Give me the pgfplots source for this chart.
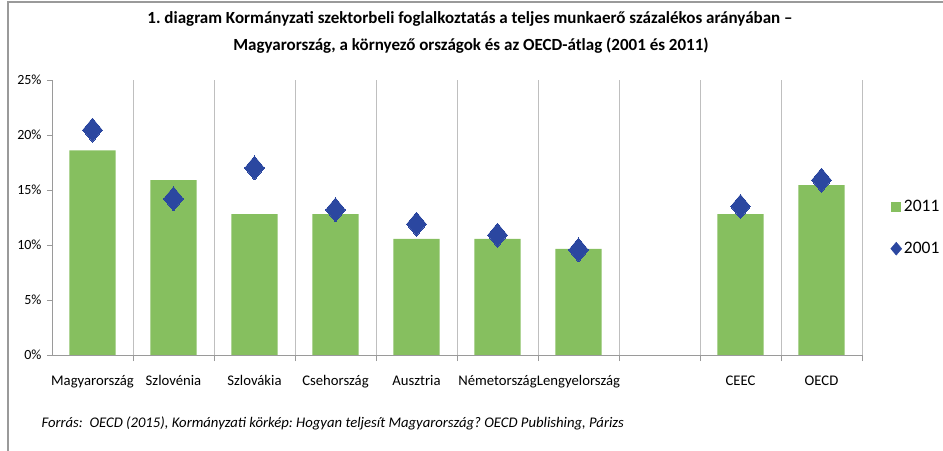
\documentclass[border=0pt]{standalone}
\usepackage{pgfplots}
\pgfplotsset{compat=1.18}
\usepackage{fontspec}
\setmainfont{Carlito}
\frenchspacing
\definecolor{bargreen}{HTML}{86BF5F}
\definecolor{diablue}{HTML}{2B47A0}
\definecolor{gridgray}{HTML}{BFBFBF}
\definecolor{axgray}{HTML}{9A9A9A}
\begin{document}
\begin{tikzpicture}[x=1bp,y=1bp]
\begin{axis}[
  at={(52bp,96bp)}, anchor=south west,
  scale only axis, width=810bp, height=275bp,
  xmin=-0.5, xmax=9.5, ymin=0, ymax=25,
  axis x line*=bottom, axis y line*=left,
  axis line style={axgray, line width=0.8bp},
  xtick={0,1,2,3,4,5,6,7,8,9},
  xticklabels={Magyarország,Szlovénia,Szlovákia,Csehország,Ausztria,Németország,Lengyelország,,CEEC,OECD},
  major x tick style={draw=none},
  minor xtick={0.5,1.5,2.5,3.5,4.5,5.5,6.5,7.5,8.5,9.5},
  minor x tick style={axgray, line width=0.8bp},
  minor x grid style={gridgray, line width=0.8bp},
  xminorgrids=true,
  minor tick length=6bp,
  major tick length=5bp,
  tick align=outside,
  ytick={0,5,10,15,20,25},
  yticklabel={\pgfmathprintnumber{\tick}\%},
  y tick style={axgray, line width=0.8bp},
  /pgf/number format/assume math mode=true,
  ticklabel style={font=\fontsize{14bp}{16bp}\selectfont, text=black},
  xticklabel style={yshift=-12bp, font=\fontsize{14.7bp}{16bp}\selectfont},
  yticklabel style={xshift=-2bp},
  legend style={draw=none, fill=none, at={(1.035,0.57)}, anchor=north west,
    font=\fontsize{17.5bp}{19bp}\selectfont, row sep=25bp, inner sep=0pt,
    cells={anchor=west}},
  clip=false,
]
\addplot[ybar, bar width=0.57, fill=bargreen, draw=none,
  legend image code/.code={\fill[bargreen] (0bp,-5bp) rectangle (10bp,5bp);}]
  coordinates {(0,18.6) (1,15.9) (2,12.8) (3,12.8) (4,10.55) (5,10.55) (6,9.65) (8,12.8) (9,15.45)};
\addlegendentry{2011}
\addplot[only marks, mark=diamond*, mark size=12bp, mark options={fill=diablue, draw=diablue, line width=0pt, xscale=1.1},
  legend image code/.code={\fill[diablue] (5bp,-6.5bp) -- (10.5bp,0bp) -- (5bp,6.5bp) -- (-0.5bp,0bp) -- cycle;}]
  coordinates {(0,20.45) (1,14.2) (2,17.0) (3,13.2) (4,11.9) (5,10.9) (6,9.55) (8,13.5) (9,15.9)};
\addlegendentry{2001}
\end{axis}
\node[font=\fontsize{17bp}{19bp}\selectfont\bfseries] at (470bp,432bp) {1. diagram Kormányzati szektorbeli foglalkoztatás a teljes munkaerő százalékos arányában –};
\node[font=\fontsize{17bp}{19bp}\selectfont\bfseries] at (471bp,405bp) {Magyarország, a környező országok és az OECD-átlag (2001 és 2011)};
\node[font=\fontsize{14.7bp}{16bp}\selectfont\itshape, anchor=west] at (38bp,28bp) {Forrás:\ \ OECD (2015), Kormányzati körkép: Hogyan teljesít Magyarország? OECD Publishing, Párizs};
\draw[axgray, line width=1.2bp] (8bp,0bp) -- (8bp,449bp) -- (943bp,449bp);
\pgfresetboundingbox
\path (0bp,0bp) rectangle (943bp,451bp);
\end{tikzpicture}
\end{document}
